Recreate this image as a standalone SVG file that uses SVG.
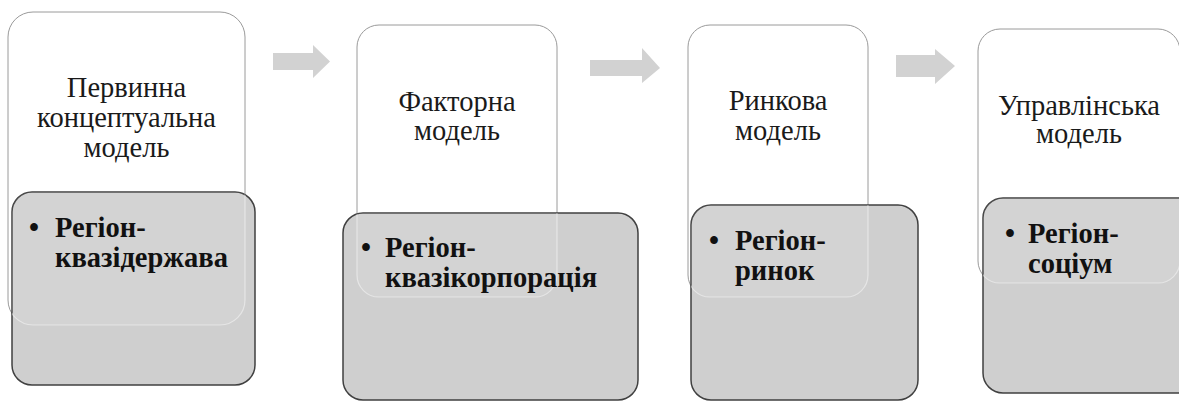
<svg xmlns="http://www.w3.org/2000/svg" width="1179" height="403" viewBox="0 0 1179 403">
<style>
.wb{fill:#ffffff;stroke:#9a9a9a;stroke-width:1}
.gb{fill:#cfcfcf;stroke:#404040;stroke-width:1.5}
.ov{fill:#ffffff;fill-opacity:0.09;stroke:#ffffff;stroke-opacity:0.45;stroke-width:1.2}
.arr{fill:#d2d2d2}
.t{font-family:"Liberation Serif","Times New Roman",serif;font-size:28.5px;fill:#1a1a1a;text-anchor:middle}
.b{font-family:"Liberation Serif","Times New Roman",serif;font-size:28.5px;font-weight:bold;fill:#111111}
</style>
<defs>
<clipPath id="c1"><rect x="12" y="192" width="243" height="193" rx="20"/></clipPath>
<clipPath id="c2"><rect x="343" y="213" width="295" height="187" rx="20"/></clipPath>
<clipPath id="c3"><rect x="691" y="205" width="227" height="195" rx="20"/></clipPath>
<clipPath id="c4"><rect x="983" y="198" width="215" height="195" rx="20"/></clipPath>
</defs>
<rect width="1179" height="403" fill="#ffffff"/>
<g id="connectors">
<polygon class="arr" points="273,53 313,53 313,45 330,61.5 313,78 313,70 273,70"/>
<polygon class="arr" points="590,60 642,60 642,48 660,68 642,83 642,76 590,76"/>
<polygon class="arr" points="896,55 935,55 935,49 955,66 935,84 935,77 896,77"/>
</g>
<g id="node1">
<rect class="wb" x="8" y="12" width="237" height="313" rx="25"/>
<rect class="gb" x="12" y="192" width="243" height="193" rx="20"/>
<rect class="ov" x="8" y="12" width="237" height="313" rx="25" clip-path="url(#c1)"/>
<text class="t" x="126.5" y="97">Первинна</text>
<text class="t" x="126.5" y="127">концептуальна</text>
<text class="t" x="126.5" y="157">модель</text>
<text class="b" x="29" y="237">•</text>
<text class="b" x="55" y="237">Регіон-</text>
<text class="b" x="55" y="267">квазідержава</text>
</g>
<g id="node2">
<rect class="wb" x="357" y="25" width="200" height="272" rx="22"/>
<rect class="gb" x="343" y="213" width="295" height="187" rx="20"/>
<rect class="ov" x="357" y="25" width="200" height="272" rx="22" clip-path="url(#c2)"/>
<text class="t" x="457" y="111">Факторна</text>
<text class="t" x="457" y="140">модель</text>
<text class="b" x="361" y="257">•</text>
<text class="b" x="385" y="257">Регіон-</text>
<text class="b" x="385" y="287">квазікорпорація</text>
</g>
<g id="node3">
<rect class="wb" x="688" y="25" width="180" height="272" rx="22"/>
<rect class="gb" x="691" y="205" width="227" height="195" rx="20"/>
<rect class="ov" x="688" y="25" width="180" height="272" rx="22" clip-path="url(#c3)"/>
<text class="t" x="778" y="110">Ринкова</text>
<text class="t" x="778" y="140">модель</text>
<text class="b" x="709" y="250">•</text>
<text class="b" x="735" y="250">Регіон-</text>
<text class="b" x="735" y="280">ринок</text>
</g>
<g id="node4">
<rect class="wb" x="978" y="29" width="202" height="254" rx="22"/>
<rect class="gb" x="983" y="198" width="215" height="195" rx="20"/>
<rect class="ov" x="978" y="29" width="202" height="254" rx="22" clip-path="url(#c4)"/>
<text class="t" x="1079" y="115">Управлінська</text>
<text class="t" x="1079" y="143">модель</text>
<text class="b" x="1005" y="243">•</text>
<text class="b" x="1028" y="243">Регіон-</text>
<text class="b" x="1028" y="273">соціум</text>
</g>
</svg>
